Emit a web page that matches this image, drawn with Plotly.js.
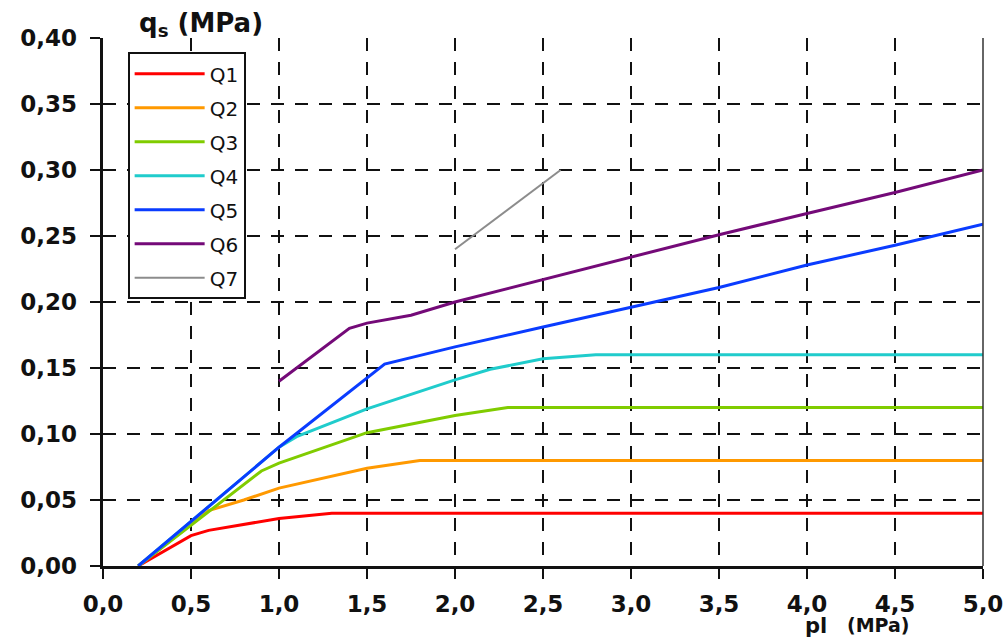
<!DOCTYPE html>
<html>
<head>
<meta charset="utf-8">
<script src="https://cdn.plot.ly/plotly-3.0.1.min.js"></script>
<style>html,body{margin:0;padding:0;background:#fff;}#chart{width:1006px;height:639px;}</style>
</head>
<body>
<div id="chart"></div>
<script>
// Series names
const seriesNames = ["Q1", "Q2", "Q3", "Q4", "Q5", "Q6", "Q7"];
// pl (MPa) / qs (MPa) values per series
const xQ1 = [0.2, 0.5, 0.6, 1.0, 1.3, 5.0];
const yQ1 = [0.0, 0.023, 0.027, 0.036, 0.040, 0.040];
const xQ2 = [0.2, 0.6, 0.8, 1.0, 1.5, 1.8, 5.0];
const yQ2 = [0.0, 0.042, 0.050, 0.059, 0.074, 0.080, 0.080];
const xQ3 = [0.2, 0.9, 1.0, 1.5, 2.0, 2.3, 5.0];
const yQ3 = [0.0, 0.072, 0.078, 0.101, 0.114, 0.120, 0.120];
const xQ4 = [0.2, 1.0, 1.1, 1.5, 2.0, 2.2, 2.5, 2.8, 5.0];
const yQ4 = [0.0, 0.090, 0.098, 0.119, 0.141, 0.149, 0.157, 0.160, 0.160];
const xQ5 = [0.2, 1.0, 1.6, 2.0, 2.5, 3.0, 3.5, 4.0, 4.5, 5.0];
const yQ5 = [0.0, 0.090, 0.153, 0.166, 0.181, 0.196, 0.211, 0.228, 0.243, 0.259];
const xQ6 = [1.0, 1.4, 1.5, 1.75, 2.0, 2.5, 3.0, 3.5, 4.0, 4.5, 5.0];
const yQ6 = [0.140, 0.180, 0.184, 0.190, 0.200, 0.217, 0.234, 0.251, 0.267, 0.283, 0.300];
const xQ7 = [2.0, 2.6];
const yQ7 = [0.240, 0.300];

const xs = [xQ1, xQ2, xQ3, xQ4, xQ5, xQ6, xQ7];
const ys = [yQ1, yQ2, yQ3, yQ4, yQ5, yQ6, yQ7];
const colors = ["#ff0000", "#ff9900", "#80cc00", "#20cccc", "#0a3cff", "#740a78", "#8c8c8c"];
const widths = [3, 3, 3, 3, 3, 3, 2];

const traces = seriesNames.map((n, i) => ({
  type: "scatter", mode: "lines", name: n,
  x: xs[i], y: ys[i],
  legendgroup: n,
  line: {color: colors[i], width: widths[i]}
}));

const tickFont = {family: "DejaVu Sans", size: 23, color: "#111", weight: "bold"};

const layout = {
  width: 1006, height: 639,
  margin: {l: 103, r: 23, t: 38, b: 73},
  paper_bgcolor: "#fff", plot_bgcolor: "#fff",
  separators: ", ",
  showlegend: true,
  legend: {
    x: 0.028, y: 0.973, xanchor: "left", yanchor: "top",
    bgcolor: "#fff", bordercolor: "#111", borderwidth: 2,
    font: {family: "DejaVu Sans", size: 20, color: "#111"},
    traceorder: "grouped", tracegroupgap: 5,
    itemwidth: 70, entrywidth: 134
  },
  xaxis: {
    range: [0, 5], dtick: 0.5, tick0: 0, tickformat: ".1f",
    showline: true, linecolor: "#111", linewidth: 3,
    ticks: "outside", ticklen: 10, tickwidth: 2, tickcolor: "#111",
    ticklabelstandoff: 5,
    showgrid: true, gridcolor: "#111", gridwidth: 2, griddash: "13px,11px",
    zeroline: false, tickfont: tickFont, fixedrange: true
  },
  yaxis: {
    range: [0, 0.40], dtick: 0.05, tick0: 0, tickformat: ".2f",
    showline: true, linecolor: "#111", linewidth: 3.5,
    ticks: "outside", ticklen: 10, tickwidth: 2, tickcolor: "#111",
    ticklabelstandoff: 8,
    showgrid: true, gridcolor: "#111", gridwidth: 2, griddash: "13px,11px",
    zeroline: false, tickfont: tickFont, fixedrange: true
  },
  shapes: [
    {type: "line", xref: "paper", yref: "paper", x0: 1, x1: 1, y0: 0, y1: 1,
     line: {color: "#333", width: 1.5}}
  ],
  annotations: [
    {xref: "paper", yref: "paper", x: (201 - 103) / 880, y: (566 - 25) / 528, xanchor: "center", yanchor: "middle",
     showarrow: false, text: "<b>q<sub>s</sub> (MPa)</b>",
     font: {family: "DejaVu Sans", size: 26, color: "#111"}},
    {xref: "paper", yref: "paper", x: (816 - 103) / 880, y: (566 - 626) / 528, xanchor: "center", yanchor: "middle",
     showarrow: false, text: "<b>pl</b>",
     font: {family: "DejaVu Sans", size: 21, color: "#111"}},
    {xref: "paper", yref: "paper", x: (878 - 103) / 880, y: (566 - 625) / 528, xanchor: "center", yanchor: "middle",
     showarrow: false, text: "<b>(MPa)</b>",
     font: {family: "DejaVu Sans", size: 19, color: "#111"}}
  ]
};

Plotly.newPlot("chart", traces, layout, {displayModeBar: false, staticPlot: true});
</script>
</body>
</html>
